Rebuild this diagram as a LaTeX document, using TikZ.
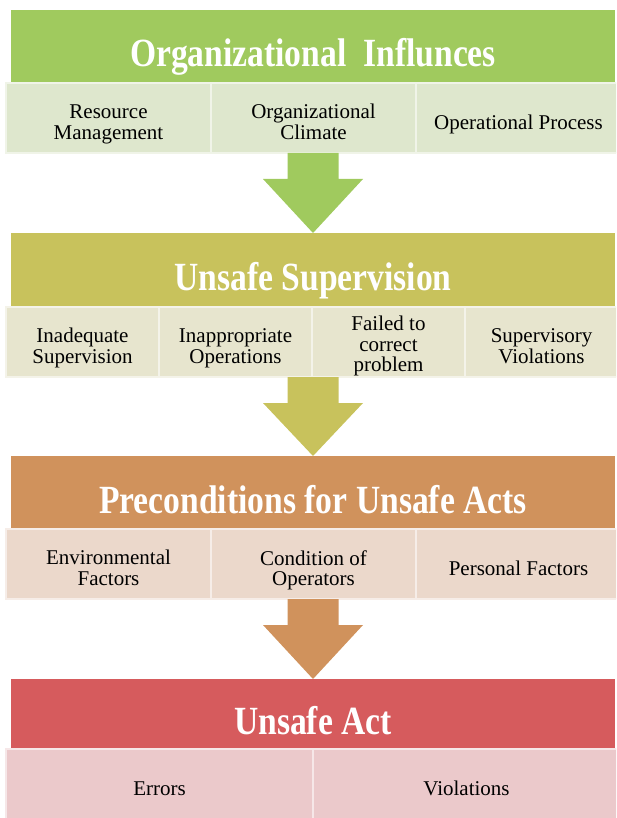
\documentclass[tikz,border=0pt]{standalone}
\usepackage{graphicx}
\usepackage{fontspec}
\setmainfont{Liberation Serif}
\usetikzlibrary{positioning,calc}
\definecolor{orgHead}{RGB}{160,202,94}
\definecolor{orgPart}{RGB}{222,231,205}
\definecolor{supHead}{RGB}{200,194,92}
\definecolor{supPart}{RGB}{231,229,206}
\definecolor{preHead}{RGB}{208,146,92}
\definecolor{prePart}{RGB}{235,216,203}
\definecolor{actHead}{RGB}{214,91,93}
\definecolor{actPart}{RGB}{235,201,203}
% text of a box, set a little below its centre
\newcommand{\lift}[2][7pt]{\raisebox{-#1}[\height][\depth]{%
  \begin{tabular}{@{}c@{}}#2\end{tabular}}}
\newcommand{\narrow}[1]{\scalebox{0.84}[1]{#1}}
\newcommand{\bandarrow}[3]{
  \fill [#1] ($(#2)+(-25.5,0)$) -- ($(#2)+(-25.5,26)$) -- ($(#2)+(-50,26)$)
        -- (#3) -- ($(#2)+(50,26)$) -- ($(#2)+(25.5,26)$)
        -- ($(#2)+(25.5,0)$) -- cycle;}

\begin{document}
\begin{tikzpicture}
[x=1pt,y=-1pt,
band/.style={anchor=north,inner sep=0pt,outer sep=0pt,
  minimum width=604pt,minimum height=73pt,text=white,
  text height=45pt,text depth=4pt,
  font=\fontsize{40}{44}\selectfont\bfseries},
part/.style={inner sep=2pt,outer sep=0pt,minimum height=70pt,
  line width=2.5pt,text=black,
  font=\fontsize{21}{20.5}\selectfont},
orgbox/.style={part,fill=orgPart,draw=orgPart!45!white,minimum width=205pt},
supbox/.style={part,fill=supPart,draw=supPart!45!white,minimum width=153pt},
prebox/.style={part,fill=prePart,draw=prePart!45!white,minimum width=205pt},
actbox/.style={part,fill=actPart,draw=actPart!45!white,minimum width=307pt}]
\useasboundingbox (0,0) rectangle (616,818);
\begin{scope}
\clip (0,0) rectangle (616,818);

% organizational influences
\node (org) [band,fill=orgHead] at (313,10) {\narrow{Organizational~~Influnces}};
\node (org1) [orgbox,anchor=north west] at (6,0 |- org.south) {\lift{Resource\\Management}};
\node (org2) [orgbox,right=0pt of org1] {\lift{Organizational\\Climate}};
\node (org3) [orgbox,right=0pt of org2] {\lift{Operational Process}};
\coordinate (orgfoot) at (org.center |- org1.south);

% unsafe supervision
\node (sup) [band,fill=supHead,minimum height=74pt] at ($(orgfoot)+(0,80)$) {\narrow{Unsafe Supervision}};
\node (sup1) [supbox,anchor=north west] at (6,0 |- sup.south) {\lift{Inadequate\\Supervision}};
\node (sup2) [supbox,right=0pt of sup1] {\lift{Inappropriate\\Operations}};
\node (sup3) [supbox,right=0pt of sup2] {\lift[5pt]{Failed to\\correct\\problem}};
\node (sup4) [supbox,right=0pt of sup3] {\lift{Supervisory\\Violations}};
\coordinate (supfoot) at (sup.center |- sup1.south);

% preconditions
\node (pre) [band,fill=preHead] at ($(supfoot)+(0,79)$) {\narrow{Preconditions for Unsafe Acts}};
\node (pre1) [prebox,anchor=north west] at (6,0 |- pre.south) {\lift{Environmental\\Factors}};
\node (pre2) [prebox,right=0pt of pre1] {\lift{Condition of\\Operators}};
\node (pre3) [prebox,right=0pt of pre2] {\lift{Personal Factors}};
\coordinate (prefoot) at (pre.center |- pre1.south);

% unsafe act
\node (act) [band,fill=actHead,minimum height=70pt] at ($(prefoot)+(0,80)$) {\narrow{Unsafe Act}};
\node (act1) [actbox,anchor=north west] at (6,0 |- act.south) {\lift{Errors}};
\node (act2) [actbox,right=0pt of act1] {\lift{Violations}};

\bandarrow{orgHead}{orgfoot}{sup.north}
\bandarrow{supHead}{supfoot}{pre.north}
\bandarrow{preHead}{prefoot}{act.north}
\end{scope}
\end{tikzpicture}
\end{document}
